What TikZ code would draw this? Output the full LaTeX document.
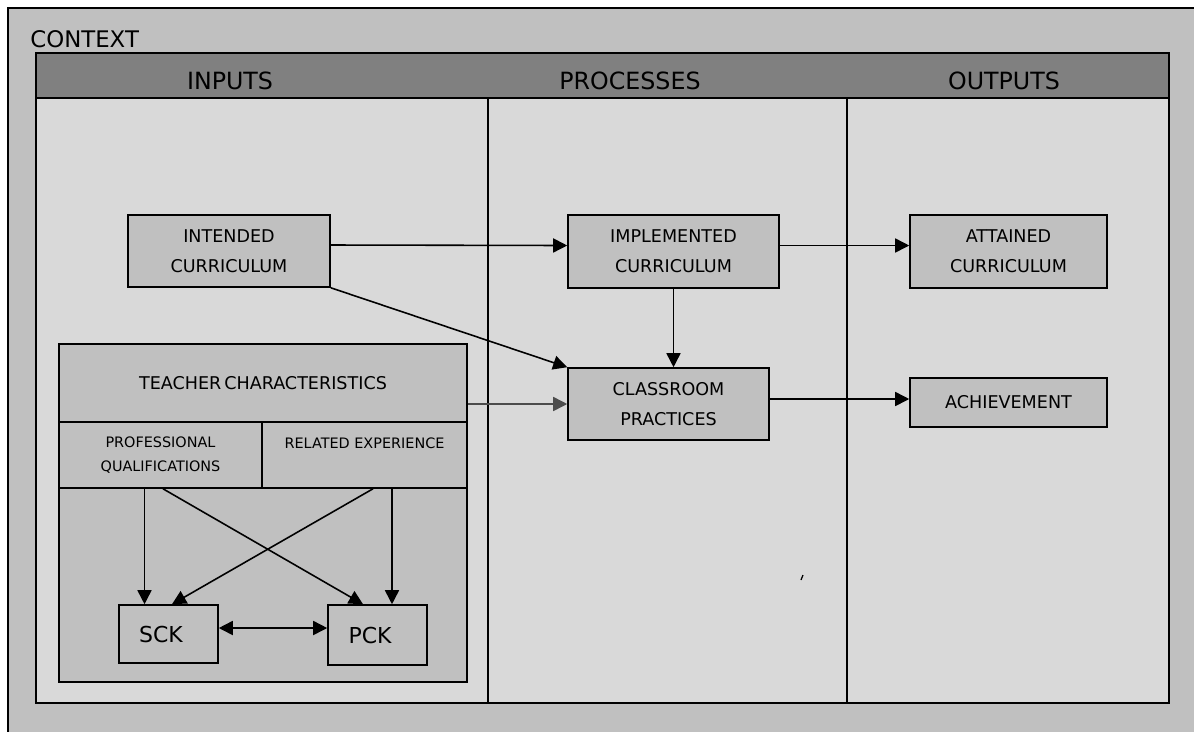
\documentclass[tikz,border=0pt]{standalone}
\usepackage{fontspec}
\setmainfont{DejaVu Sans}
\usetikzlibrary{arrows.meta}
\definecolor{outergray}{HTML}{C0C0C0}
\definecolor{innergray}{HTML}{D9D9D9}
\definecolor{headgray}{HTML}{808080}
\tikzstyle{box} = [rectangle, draw=black, fill=outergray, line width=0.9pt, align=center, font=\fontsize{10}{17}\selectfont, inner sep=0pt]
\tikzstyle{cell} = [rectangle, draw=black, fill=outergray, line width=0.9pt, align=center, inner sep=0pt]
\tikzstyle{heading} = [font=\fontsize{13.5}{16}\selectfont, text=black]
\tikzstyle{frame} = [line width=0.9pt, draw=black]
\tikzstyle{arrow} = [line width=0.9pt,-{Triangle[length=8pt,width=8pt]}]
\tikzstyle{twoway} = [line width=0.9pt,{Triangle[length=8pt,width=8pt]}-{Triangle[length=8pt,width=8pt]}]

\begin{document}
\begin{tikzpicture}[x=0.02cm,y=-0.02cm]
					\useasboundingbox (0,0) rectangle (1194,731);
					\fill[white] (0,0) rectangle (1194,731);
					\draw[frame, fill=outergray] (8,8) rectangle (1215,745);
					\node[anchor=base west, font=\fontsize{13}{15}\selectfont, inner sep=0pt] (context) at (30,47) {CONTEXT};
					\draw[frame, fill=innergray] (36,53) rectangle (1169,703);
					\draw[frame, fill=headgray] (36,53) rectangle (1169,98);
					\draw[frame] (488,98) -- (488,703) (847,98) -- (847,703);
					\node[heading] (inputs) at (230,81) {INPUTS};
					\node[heading] (processes) at (630,81) {PROCESSES};
					\node[heading] (outputs) at (1004,81) {OUTPUTS};
					\node[box, minimum width=4.04cm, minimum height=1.44cm] (intended) at (229,251) {INTENDED\\CURRICULUM};
					\node[box, minimum width=4.22cm, minimum height=1.46cm] (implemented) at (673.5,251.5) {IMPLEMENTED\\CURRICULUM};
					\node[box, minimum width=3.94cm, minimum height=1.46cm] (attained) at (1008.5,251.5) {ATTAINED\\CURRICULUM};
					\node[box, minimum width=4.02cm, minimum height=1.44cm] (classroom) at (668.5,404) {CLASSROOM\\PRACTICES};
					\node[box, minimum width=3.94cm, minimum height=0.98cm] (achievement) at (1008.5,402.5) {ACHIEVEMENT};
					\node[cell, minimum width=8.16cm, minimum height=6.76cm] (teacher) at (263,513) {};
					\node[cell, minimum width=8.16cm, minimum height=1.56cm, font=\fontsize{10}{12}\selectfont] (characteristics) at (263,383) {TEACHER\,CHARACTERISTICS};
					\node[cell, minimum width=4.06cm, minimum height=1.32cm, font=\fontsize{8.2}{14}\selectfont] (qualifications) at (160.5,455) {PROFESSIONAL\\QUALIFICATIONS};
					\node[cell, minimum width=4.10cm, minimum height=1.32cm, font=\fontsize{8.2}{14}\selectfont] (experience) at (364.5,455) {RELATED EXPERIENCE\\\mbox{}};
					\node[cell, minimum width=1.98cm, minimum height=1.16cm, font=\fontsize{12.5}{15}\selectfont] (sck) at (168.5,634) {SCK\hspace{0.3cm}};
					\node[cell, minimum width=1.98cm, minimum height=1.2cm, font=\fontsize{12.5}{15}\selectfont] (pck) at (377.5,635) {PCK\hspace{0.3cm}};
					\draw[arrow] ([yshift=0.12cm]intended.east) -- ([yshift=0.12cm]implemented.west);
					\draw[arrow] (intended.south east) -- (classroom.north west);
					\draw[arrow] (implemented.south) -- (implemented.south |- classroom.north);
					\draw[arrow, draw=black!70] (characteristics.east |- classroom.west) -- (classroom.west);
					\draw[arrow] ([yshift=0.12cm]implemented.east) -- ([yshift=0.12cm]implemented.east -| attained.west);
					\draw[arrow] ([yshift=0.1cm]classroom.east) -- ([yshift=0.1cm]classroom.east -| achievement.west);
					\draw[arrow] ([xshift=-0.48cm]sck.north |- qualifications.south) -- ([xshift=-0.48cm]sck.north);
					\draw[arrow] ([xshift=0.05cm]qualifications.south) -- ([xshift=-0.29cm]pck.north);
					\draw[arrow] ([xshift=0.17cm]experience.south) -- ([xshift=0.07cm]sck.north);
					\draw[arrow] ([xshift=0.29cm]pck.north |- experience.south) -- ([xshift=0.29cm]pck.north);
					\draw[twoway] ([yshift=0.12cm]sck.east) -- ([yshift=0.12cm]sck.east -| pck.west);
					\draw[line width=0.7pt] (803,575) -- (801,580);
					\end{tikzpicture}
\end{document}
